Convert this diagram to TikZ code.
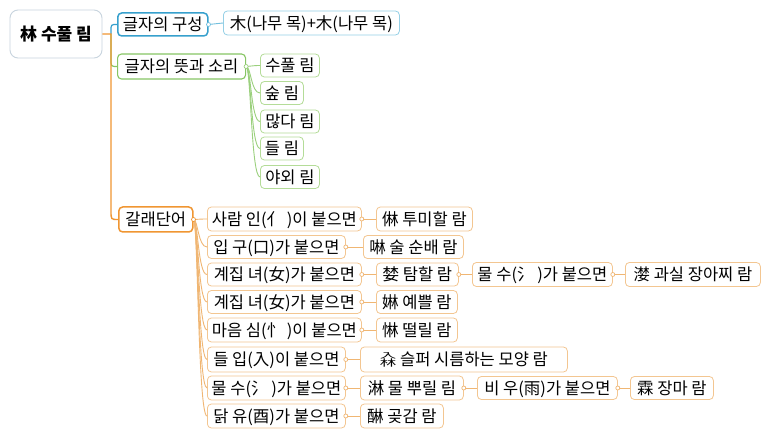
\documentclass[tikz,border=0pt]{standalone}
\usepackage{fontspec}
\usepackage{graphicx}
\setmainfont{Noto Sans CJK KR}
\usetikzlibrary{calc}
\definecolor{rootb}{RGB}{200,212,222}
\definecolor{orgT}{RGB}{240,150,50}
\definecolor{orgB}{RGB}{243,198,145}
\definecolor{orgL}{RGB}{240,182,115}
\definecolor{bluT}{RGB}{55,160,205}
\definecolor{bluB}{RGB}{150,208,230}
\definecolor{bluL}{RGB}{115,192,222}
\definecolor{grnT}{RGB}{135,198,100}
\definecolor{grnB}{RGB}{180,220,152}
\definecolor{grnL}{RGB}{155,208,125}
\newcommand\rulam{\makebox[1em][c]{\rlap{\raisebox{0.46em}{\scalebox{1.0}[0.46]{入}}}\raisebox{-0.06em}{\scalebox{1.0}[0.56]{林}}}}
\begin{document}
\begin{tikzpicture}[x=1pt,y=-1pt,
  font=\fontsize{16.5}{19}\selectfont,
  box/.style={draw, rounded corners=4pt, fill=white, inner sep=0pt,
    minimum height=24pt, anchor=west, line width=0.8pt,
    text height=14.5pt, text depth=2pt, align=center},
  obox/.style={box, draw=orgB},
  gbox/.style={box, draw=grnB, minimum height=23pt},
  bbox/.style={box, draw=bluB},
  oline/.style={draw=orgL, line width=0.9pt},
  gline/.style={draw=grnL, line width=0.9pt},
  bline/.style={draw=bluL, line width=0.9pt},
  knob/.style={fill=white, line width=0.7pt}]
\fill[white] (0,0) rectangle (773,438);
\useasboundingbox (0,0) rectangle (773,438);

% root
\node[draw=rootb, line width=0.9pt, rounded corners=8pt, fill=white,
  minimum width=92pt, minimum height=48pt, inner sep=0pt,
  text height=15pt, text depth=2pt, font=\fontsize{17}{20}\selectfont\bfseries]
  (root) at (56,34) {林 수풀 림};
\coordinate (trunk) at (111,34);

% main branches
\node[box, draw=bluT, line width=1.5pt, minimum width=90pt, minimum height=23pt] (b1) at (117,24.5) {글자의 구성};
\node[box, draw=grnT, line width=1.1pt, minimum width=128pt, minimum height=25pt] (b2) at (117,66.5) {글자의 뜻과 소리};
\node[box, draw=orgT, line width=1.5pt, minimum width=74pt, minimum height=25pt] (b3) at (118,219.5) {갈래단어};

% blue child
\node[bbox, minimum width=176pt] (b1c) at (223,23) {木(나무 목)+木(나무 목)};

% green children
\node[gbox, minimum width=59pt] (g1) at (260,65.5) {수풀 림};
\node[gbox, minimum width=43pt] (g2) at (260,93) {숲 림};
\node[gbox, minimum width=59pt] (g3) at (260,121.5) {많다 림};
\node[gbox, minimum width=43pt] (g4) at (260,148.5) {들 림};
\node[gbox, minimum width=59pt] (g5) at (260,177) {야외 림};

% orange column 2
\node[obox, minimum width=154pt] (r1) at (207,219) {사람 인(亻 )이 붙으면};
\node[obox, minimum width=138pt, minimum height=23pt] (r2) at (207,247) {입 구(口)가 붙으면};
\node[obox, minimum width=154pt, minimum height=23pt] (r3) at (207,274.5) {계집 녀(女)가 붙으면};
\node[obox, minimum width=154pt, minimum height=23pt] (r4) at (207,302) {계집 녀(女)가 붙으면};
\node[obox, minimum width=154pt] (r5) at (207,330) {마음 심(忄 )이 붙으면};
\node[obox, minimum width=138pt, minimum height=25pt] (r6) at (207,359.5) {들 입(入)이 붙으면};
\node[obox, minimum width=138pt] (r7) at (207,388) {물 수(氵 )가 붙으면};
\node[obox, minimum width=138pt] (r8) at (207,416) {닭 유(酉)가 붙으면};

% orange column 3
\node[obox, minimum width=96pt] (c1) at (376,219) {㑣 투미할 람};
\node[obox, minimum width=100pt, minimum height=23pt] (c2) at (363,247) {啉 술 순배 람};
\node[obox, minimum width=82pt, minimum height=23pt] (c3) at (376,274.5) {婪 탐할 람};
\node[obox, minimum width=81pt, minimum height=23pt] (c4) at (376,302) {㛦 예쁠 람};
\node[obox, minimum width=81pt] (c5) at (376,330) {惏 떨릴 람};
\node[obox, minimum width=207pt, minimum height=25pt] (c6) at (360,359.5) {\rulam{} 슬퍼 시름하는 모양 람};
\node[obox, minimum width=103pt] (c7) at (360,388) {淋 물 뿌릴 림};
\node[obox, minimum width=83pt] (c8) at (360,416) {醂 곶감 람};

% orange columns 4 and 5
\node[obox, minimum width=140pt] (d3) at (472,274.5) {물 수(氵 )가 붙으면};
\node[obox, minimum width=140pt, minimum height=23pt] (d7) at (477,388) {비 우(雨)가 붙으면};
\node[obox, minimum width=135pt] (e3) at (625,274.5) {漤 과실 장아찌 람};
\node[obox, minimum width=83pt, minimum height=23pt] (e7) at (630,388) {霖 장마 람};

% ---- connectors ----
\draw[draw=grnT, line width=1.2pt] (trunk) -- (111,59) .. controls (111,66.5) .. (b2.west);
\draw[draw=bluT, line width=1.2pt] (trunk) -- (111,31) .. controls (111,24.5) .. (b1.west);
\draw[draw=orgT, line width=1.4pt] (root.east) -- (trunk) -- (111,211) .. controls (111,219.5) .. (b3.west);

% blue
\draw[bline] (b1.east) -- (b1c.west);
\draw[knob, draw=bluL] (b1.east) circle (2pt);

% green fan
\coordinate (b2o) at (251,66.5);
\foreach \n in {g1,g2,g3,g4,g5}
  \draw[gline] (b2.east) .. controls (b2o) and (b2o |- \n.west) .. (\n.west);
\draw[knob, draw=grnL] (b2.east) circle (2pt);

% orange fan
\coordinate (b3o) at (198,219.5);
\foreach \n in {r1,r2,r3,r4,r5,r6,r7,r8}
  \draw[oline] (b3.east) .. controls (b3o) and (b3o |- \n.west) .. (\n.west);
\draw[knob, draw=orgT] (b3.east) circle (2pt);

% orange straight links
\foreach \a/\b in {r1/c1,r2/c2,r3/c3,r4/c4,r5/c5,r6/c6,r7/c7,r8/c8,c3/d3,d3/e3,c7/d7,d7/e7}{
  \draw[oline] (\a.east) -- (\b.west);
  \draw[knob, draw=orgL] (\a.east) circle (2pt);
}
\end{tikzpicture}
\end{document}
